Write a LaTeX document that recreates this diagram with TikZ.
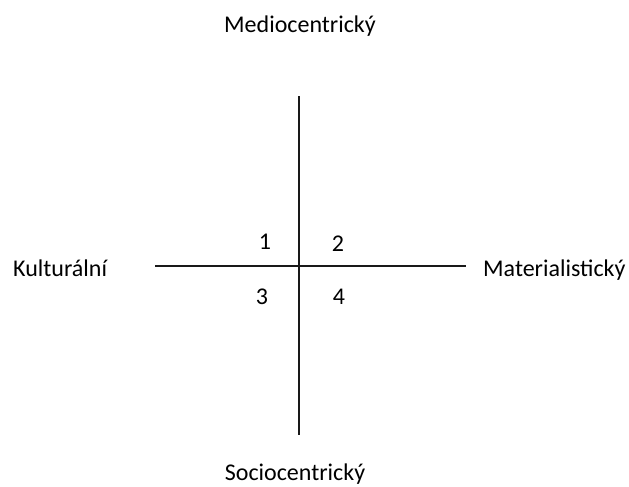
\documentclass[tikz,border=0pt]{standalone}
\usepackage{fontspec}
\setmainfont{Carlito}
\begin{document}
\begin{tikzpicture}[x=1pt,y=-1pt,
  lbl/.style={inner sep=0pt,font=\fontsize{24}{28}\selectfont},
  axis/.style={line width=1.1pt,black!90}]
\useasboundingbox (0,0) rectangle (629,487);
\coordinate (top) at (299,96);
\coordinate (bot) at (299,435);
\coordinate (lft) at (155,266);
\coordinate (rgt) at (466,266);
\draw[axis] (top) -- (bot);
\draw[axis] (lft) -- (rgt);
\node[lbl,anchor=base] (med) at (300,33) {Mediocentrický};
\node[lbl,anchor=base] (soc) at (295,480) {Sociocentrický};
\node[lbl,anchor=base west] (kul) at (13,276) {Kulturální};
\node[lbl,anchor=base west] (mat) at (483,276) {Materialistický};
\node[lbl,anchor=base] (n1) at (265,249) {1};
\node[lbl,anchor=base] (n2) at (338,251) {2};
\node[lbl,anchor=base] (n3) at (262,304) {3};
\node[lbl,anchor=base] (n4) at (339,304) {4};
\end{tikzpicture}
\end{document}
